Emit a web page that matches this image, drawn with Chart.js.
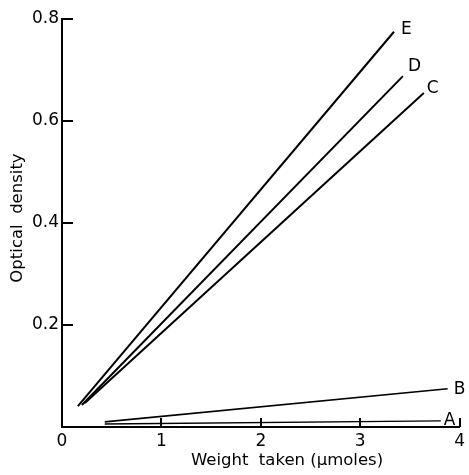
<!DOCTYPE html>
<html>
<head>
<meta charset="utf-8">
<script src="https://cdn.jsdelivr.net/npm/chart.js@4.4.0/dist/chart.umd.min.js"></script>
<style>
  body { margin: 0; background: #fff; }
  canvas { display: block; }
</style>
</head>
<body>
<canvas id="myChart" width="469" height="475"></canvas>
<script>
// curve names and their start / end points
var curveNames = ['E', 'D', 'C', 'B', 'A'];
var weightStart = [0.16, 0.20, 0.23, 0.43, 0.43];
var weightEnd = [3.34, 3.43, 3.64, 3.88, 3.81];
var densityStart = [0.041, 0.043, 0.047, 0.010, 0.006];
var densityEnd = [0.775, 0.688, 0.655, 0.075, 0.012];

var xTicks = [0, 1, 2, 3, 4];
var yTicks = [0.2, 0.4, 0.6, 0.8];

// label offsets (px) from the end of each line
var labelDx = [7, 5, 3, 6, 3];
var labelDy = [-2, -10, -4, 1, 0];
var lineWidths = [2, 2, 2, 1.6, 1.4];

var font = 'DejaVu Sans';

var datasets = curveNames.map(function (name, i) {
    return {
        label: name,
        data: [{ x: weightStart[i], y: densityStart[i] }, { x: weightEnd[i], y: densityEnd[i] }],
        borderColor: '#000',
        borderWidth: lineWidths[i],
        pointRadius: 0,
        showLine: true,
        fill: false
    };
});

var extras = {
    id: 'extras',
    afterDraw: function (chart) {
        var ctx = chart.ctx;
        var xs = chart.scales.x, ys = chart.scales.y;
        var area = chart.chartArea;
        ctx.save();
        ctx.strokeStyle = '#000';
        ctx.lineWidth = 2;
        // inward tick marks
        yTicks.forEach(function (v) {
            var py = Math.round(ys.getPixelForValue(v));
            ctx.beginPath();
            ctx.moveTo(area.left, py);
            ctx.lineTo(area.left + 11, py);
            ctx.stroke();
        });
        xTicks.slice(1).forEach(function (v) {
            var px = Math.round(xs.getPixelForValue(v));
            ctx.beginPath();
            ctx.moveTo(px, area.bottom);
            ctx.lineTo(px, area.bottom - 9);
            ctx.stroke();
        });
        // curve letters
        ctx.fillStyle = '#000';
        ctx.font = '17px "' + font + '"';
        ctx.textAlign = 'left';
        ctx.textBaseline = 'middle';
        curveNames.forEach(function (name, i) {
            var px = xs.getPixelForValue(weightEnd[i]);
            var py = ys.getPixelForValue(densityEnd[i]);
            ctx.fillText(name, px + labelDx[i], py + labelDy[i]);
        });
        // axis titles
        ctx.font = '16.5px "' + font + '"';
        ctx.textAlign = 'center';
        ctx.fillText('Weight  taken (\u03bcmoles)', 287, 461);
        ctx.translate(18, 218);
        ctx.rotate(-Math.PI / 2);
        ctx.fillText('Optical  density', 0, 0);
        ctx.restore();
    }
};

new Chart(document.getElementById('myChart').getContext('2d'), {
    type: 'scatter',
    data: { datasets: datasets },
    options: {
        responsive: false,
        animation: false,
        layout: { padding: { top: 19, right: 8, left: 0, bottom: 0 } },
        plugins: { legend: { display: false }, tooltip: { enabled: false } },
        scales: {
            x: {
                type: 'linear', min: 0, max: 4,
                afterBuildTicks: function (s) { s.ticks = xTicks.map(function (v) { return { value: v }; }); },
                afterFit: function (s) { s.height = 48; },
                grid: { display: false, drawTicks: false, tickLength: 0 },
                border: { display: true, color: '#000', width: 2 },
                ticks: { color: '#000', padding: 4, font: { family: font, size: 17 }, maxRotation: 0 }
            },
            y: {
                type: 'linear', min: 0, max: 0.8,
                afterBuildTicks: function (s) { s.ticks = yTicks.map(function (v) { return { value: v }; }); },
                afterFit: function (s) { s.width = 62; },
                grid: { display: false, drawTicks: false, tickLength: 0 },
                border: { display: true, color: '#000', width: 2 },
                ticks: {
                    color: '#000', padding: 3, font: { family: font, size: 17 },
                    callback: function (v) { return v.toFixed(1); }
                }
            }
        }
    },
    plugins: [extras]
});
</script>
</body>
</html>
